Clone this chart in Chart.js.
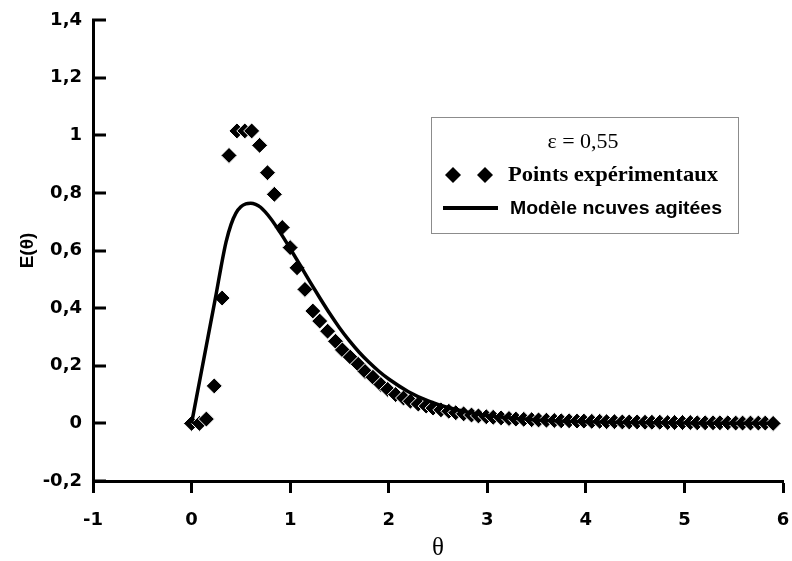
<!DOCTYPE html>
<html>
<head>
<meta charset="utf-8">
<script src="https://cdn.jsdelivr.net/npm/chart.js@4/dist/chart.umd.min.js"></script>
<style>
html,body{margin:0;padding:0;background:#fff;}
#wrap{width:792px;height:561px;}
</style>
</head>
<body>
<div id="wrap"><canvas id="c" width="792" height="561"></canvas></div>
<script>
// ---- data ----
const thetaExp = [0, 0.08, 0.15, 0.23, 0.31, 0.38, 0.46, 0.54, 0.61, 0.69,
  0.77, 0.84, 0.92, 1.00, 1.07, 1.15, 1.23, 1.30, 1.38, 1.46,
  1.53, 1.61, 1.69, 1.76, 1.84, 1.92, 1.99, 2.07, 2.15, 2.22,
  2.30, 2.38, 2.45, 2.53, 2.61, 2.68, 2.76, 2.84, 2.91, 2.99,
  3.06, 3.14, 3.22, 3.29, 3.37, 3.45, 3.52, 3.60, 3.68, 3.75,
  3.83, 3.91, 3.98, 4.06, 4.14, 4.21, 4.29, 4.37, 4.44, 4.52,
  4.60, 4.67, 4.75, 4.83, 4.90, 4.98, 5.06, 5.13, 5.21, 5.29,
  5.36, 5.44, 5.52, 5.59, 5.67, 5.75, 5.82, 5.90];
const eExp = [0, 0, 0.015, 0.13, 0.435, 0.93, 1.015, 1.015, 1.015, 0.965,
  0.87, 0.795, 0.68, 0.61, 0.54, 0.465, 0.39, 0.355, 0.32, 0.285,
  0.255, 0.23, 0.205, 0.18, 0.16, 0.135, 0.118, 0.10, 0.088, 0.077,
  0.067, 0.06, 0.053, 0.047, 0.042, 0.037, 0.033, 0.029, 0.026, 0.023,
  0.021, 0.019, 0.017, 0.015, 0.014, 0.013, 0.012, 0.011, 0.010, 0.009,
  0.009, 0.008, 0.008, 0.007, 0.007, 0.006, 0.006, 0.005, 0.005, 0.005,
  0.004, 0.004, 0.004, 0.003, 0.003, 0.003, 0.003, 0.002, 0.002, 0.002,
  0.002, 0.002, 0.001, 0.001, 0.001, 0.001, 0.001, 0];
const thetaModel = [0, 0.05, 0.1, 0.15, 0.2, 0.25, 0.3, 0.35, 0.4, 0.45,
  0.5, 0.55, 0.6, 0.65, 0.7, 0.8, 0.9, 1.0, 1.1, 1.2,
  1.3, 1.4, 1.5, 1.6, 1.7, 1.8, 1.9, 2.0, 2.2, 2.4,
  2.6, 2.8, 3.0, 3.5, 4.0, 4.5, 5.0, 5.5, 5.9];
const eModel = [0, 0.09, 0.18, 0.27, 0.36, 0.45, 0.545, 0.63, 0.69, 0.73,
  0.752, 0.762, 0.764, 0.76, 0.75, 0.712, 0.662, 0.607, 0.55, 0.492,
  0.436, 0.382, 0.332, 0.287, 0.247, 0.212, 0.181, 0.154, 0.11, 0.078,
  0.055, 0.039, 0.027, 0.012, 0.006, 0.003, 0.001, 0.0005, 0.0003];
const xTickLabels = ['-1', '0', '1', '2', '3', '4', '5', '6'];
const yTickLabels = ['-0,2', '0', '0,2', '0,4', '0,6', '0,8', '1', '1,2', '1,4'];
const seriesNames = ['Points expérimentaux', 'Modèle ncuves agitées'];
const legendTitle = 'ε = 0,55';

// ---- helpers / plugins ----
const tickFont = {family: 'DejaVu Sans', size: 18, weight: 'bold'};

const inwardYTicks = {
  id: 'inwardYTicks',
  afterDraw(chart) {
    const y = chart.scales.y, ctx = chart.ctx;
    ctx.save();
    ctx.strokeStyle = '#000';
    ctx.lineWidth = 3;
    ctx.beginPath();
    y.ticks.forEach(t => {
      const py = Math.round(y.getPixelForValue(t.value));
      ctx.moveTo(y.right - 1, py);
      ctx.lineTo(y.right + 13, py);
    });
    ctx.stroke();
    ctx.restore();
  }
};

function stretchedText(ctx, text, x, y, font, targetW, align) {
  ctx.save();
  ctx.font = font;
  const w = ctx.measureText(text).width;
  const s = targetW / w;
  ctx.translate(align === 'center' ? x - targetW / 2 : x, y);
  ctx.scale(s, 1);
  ctx.textAlign = 'left';
  ctx.textBaseline = 'middle';
  ctx.fillStyle = '#000';
  ctx.fillText(text, 0, 0);
  ctx.restore();
}

const boxLegend = {
  id: 'boxLegend',
  afterDraw(chart) {
    const ctx = chart.ctx;
    ctx.save();
    ctx.strokeStyle = '#8c8c8c';
    ctx.lineWidth = 1;
    ctx.strokeRect(431.5, 117.5, 307, 116);
    stretchedText(ctx, legendTitle, 583, 142, '21px "Liberation Serif"', 71, 'center');
    ctx.fillStyle = '#000';
    [453, 485].forEach(cx => {
      ctx.beginPath();
      ctx.moveTo(cx, 175 - 8); ctx.lineTo(cx + 8, 175); ctx.lineTo(cx, 175 + 8); ctx.lineTo(cx - 8, 175);
      ctx.closePath(); ctx.fill();
    });
    stretchedText(ctx, seriesNames[0], 508, 176, 'bold 21px "Liberation Serif"', 210, 'left');
    ctx.strokeStyle = '#000';
    ctx.lineWidth = 4;
    ctx.beginPath(); ctx.moveTo(443, 208); ctx.lineTo(498, 208); ctx.stroke();
    stretchedText(ctx, seriesNames[1], 510, 209, 'bold 19px "Liberation Sans"', 212, 'left');
    ctx.restore();
  }
};

new Chart(document.getElementById('c'), {
  type: 'scatter',
  data: {
    datasets: [
      {
        label: seriesNames[1],
        data: thetaModel.map((x, i) => ({x, y: eModel[i]})),
        showLine: true,
        borderColor: '#000',
        borderWidth: 3.5,
        pointRadius: 0,
        tension: 0.4,
        cubicInterpolationMode: 'monotone',
        fill: false,
        order: 0
      },
      {
        label: seriesNames[0],
        data: thetaExp.map((x, i) => ({x, y: eExp[i]})),
        showLine: false,
        pointStyle: 'rectRot',
        pointRadius: 8,
        backgroundColor: '#000',
        borderColor: '#fff',
        borderWidth: 1,
        order: 1
      }
    ]
  },
  options: {
    responsive: false,
    animation: false,
    devicePixelRatio: 1,
    layout: {padding: {top: 20, right: 8, left: 0, bottom: 0}},
    plugins: {legend: {display: false}, tooltip: {enabled: false}},
    scales: {
      x: {
        type: 'linear', min: -1, max: 6,
        ticks: {stepSize: 1, color: '#000', font: tickFont, padding: 17,
          callback: (v, i) => xTickLabels[i]},
        grid: {drawOnChartArea: false, drawTicks: true, tickLength: 12, tickWidth: 3, tickColor: '#000'},
        border: {display: true, width: 3, color: '#000'},
        title: {display: true, text: 'θ', color: '#000', font: {family: 'Liberation Serif', size: 25}, padding: {top: 0, bottom: -2}},
        afterFit: s => { s.height = 80; s.paddingRight = 0; s.paddingLeft = 0; }
      },
      y: {
        type: 'linear', min: -0.2, max: 1.4,
        ticks: {stepSize: 0.2, color: '#000', font: tickFont, padding: 11,
          callback: (v, i) => yTickLabels[i]},
        grid: {drawOnChartArea: false, drawTicks: false},
        border: {display: true, width: 3, color: '#000'},
        title: {display: true, text: 'E(θ)', color: '#000', font: {family: 'Liberation Sans', size: 19, weight: 'bold'}, padding: {top: 16, bottom: 0}},
        afterFit: s => { s.width = 93; s.paddingTop = 0; s.paddingBottom = 0; }
      }
    }
  },
  plugins: [inwardYTicks, boxLegend]
});
</script>
</body>
</html>
